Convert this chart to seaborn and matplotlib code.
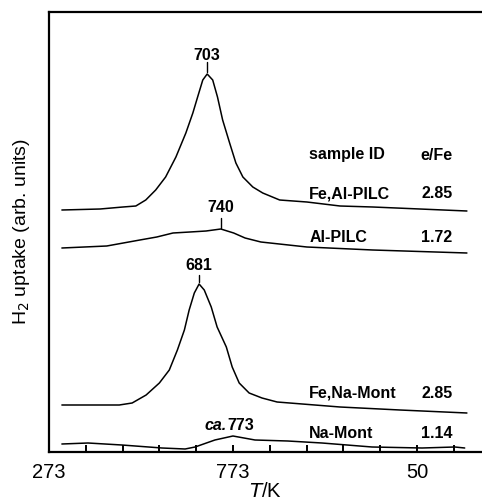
import numpy as np
import pandas as pd
import matplotlib
matplotlib.use("Agg")
import matplotlib.pyplot as plt
import seaborn as sns

# Temperature (K) and H2 uptake (arb. units, offset traces) for each sample
T_fealpilc = [308, 412, 474, 509, 536, 563, 590, 618, 645, 664, 677, 691, 703, 718, 731, 745, 764, 781, 800, 827, 854, 900, 974, 1064, 1153, 1281, 1409]
H_fealpilc = [242, 243, 245, 246, 252, 262, 275, 295, 319, 339, 355, 372, 378, 372, 355, 332, 309, 289, 275, 265, 259, 252, 250, 246, 245, 243, 241]

T_alpilc = [308, 430, 520, 566, 610, 656, 700, 740, 775, 806, 849, 974, 1153, 1409]
H_alpilc = [204, 206, 212, 215, 219, 220, 221, 223, 219, 214, 210, 205, 202, 199]

T_fenamont = [308, 412, 464, 499, 537, 573, 600, 622, 641, 654, 668, 681, 695, 714, 730, 755, 771, 790, 817, 852, 893, 1064, 1227, 1409]
H_fenamont = [47, 47, 47, 49, 57, 69, 82, 102, 122, 142, 159, 168, 162, 145, 125, 105, 85, 69, 59, 54, 50, 45, 42, 39]

T_namont = [308, 379, 471, 580, 643, 670, 724, 773, 833, 922, 1015, 1151, 1287, 1376, 1403]
H_namont = [8, 9, 7, 4, 3, 5, 12, 16, 12, 11, 9, 5, 4, 5, 4]

samples = ["Fe,Al-PILC", "Al-PILC", "Fe,Na-Mont", "Na-Mont"]
e_per_fe = ["2.85", "1.72", "2.85", "1.14"]
peak_T = [703, 740, 681, 773]
peak_labels = ["703", "740", "681", "773"]

x_ticks = [273, 773, 1273]
x_tick_labels = ["273", "773", "50"]
x_minor = [373, 473, 573, 673, 873, 973, 1073, 1173, 1373]

frames = []
for name, t, h in [("Fe,Al-PILC", T_fealpilc, H_fealpilc),
                   ("Al-PILC", T_alpilc, H_alpilc),
                   ("Fe,Na-Mont", T_fenamont, H_fenamont),
                   ("Na-Mont", T_namont, H_namont)]:
    frames.append(pd.DataFrame({"T": t, "H": h, "sample": name}))
df = pd.concat(frames, ignore_index=True)

sns.set_style("ticks")
plt.rcParams["font.family"] = ["Liberation Sans", "DejaVu Sans"]
plt.rcParams["text.color"] = "black"
plt.rcParams["axes.labelcolor"] = "black"

fig = plt.figure(figsize=(4.82, 5.04), dpi=100)
ax = fig.add_axes([49 / 482, 52 / 504, 433 / 482, 440 / 504])

sns.lineplot(data=df, x="T", y="H", hue="sample", palette=["black"] * 4,
             legend=False, ax=ax, linewidth=1.1, sort=False)

ax.set_xlim(273, 1450)
ax.set_ylim(0, 440)

# frame: left, bottom, top
for side in ["left", "bottom", "top"]:
    ax.spines[side].set_linewidth(1.6)
    ax.spines[side].set_color("black")
ax.spines["right"].set_visible(False)

ax.set_yticks([])
ax.set_xticks(x_ticks)
ax.set_xticklabels(x_tick_labels)
ax.set_xticks(x_minor, minor=True)
ax.tick_params(axis="x", which="both", direction="in", length=5, width=1.4,
               labelsize=14.5, pad=8, colors="black")
ax.tick_params(axis="x", which="both", top=False)

ax.set_xlabel(r"$T$/K", fontsize=14.5, labelpad=0, color="black")
ax.set_ylabel(r"H$_2$ uptake (arb. units)", fontsize=14, labelpad=12, color="black")

fs = 11.5
# sample table
label_x = 980
value_x = 1327
ax.text(label_x, 297, "sample ID", fontsize=fs, fontweight="bold", va="center", ha="left")
ax.text(value_x, 297, "e/Fe", fontsize=fs, fontweight="bold", va="center", ha="center")
label_y = [258, 215, 59, 19]
for name, val, y in zip(samples, e_per_fe, label_y):
    ax.text(label_x, y, name, fontsize=fs, fontweight="bold", va="center", ha="left")
    ax.text(value_x, y, val, fontsize=fs, fontweight="bold", va="center", ha="center")

# peak maxima
ax.text(peak_T[0], 397, peak_labels[0], fontsize=fs, fontweight="bold", ha="center", va="center")
ax.plot([peak_T[0], peak_T[0]], [380, 390], color="black", lw=1)
ax.text(peak_T[1], 244, peak_labels[1], fontsize=fs, fontweight="bold", ha="center", va="center")
ax.plot([peak_T[1], peak_T[1]], [224, 234], color="black", lw=1)
ax.text(peak_T[2], 186, peak_labels[2], fontsize=fs, fontweight="bold", ha="center", va="center")
ax.plot([peak_T[2], peak_T[2]], [170, 177], color="black", lw=1)
ax.text(peak_T[3] - 18, 26, "ca.", fontsize=fs, fontweight="bold", fontstyle="italic",
        ha="right", va="center")
ax.text(peak_T[3] - 16, 26, peak_labels[3], fontsize=fs, fontweight="bold",
        ha="left", va="center")

fig.savefig("out.png", dpi=100)
